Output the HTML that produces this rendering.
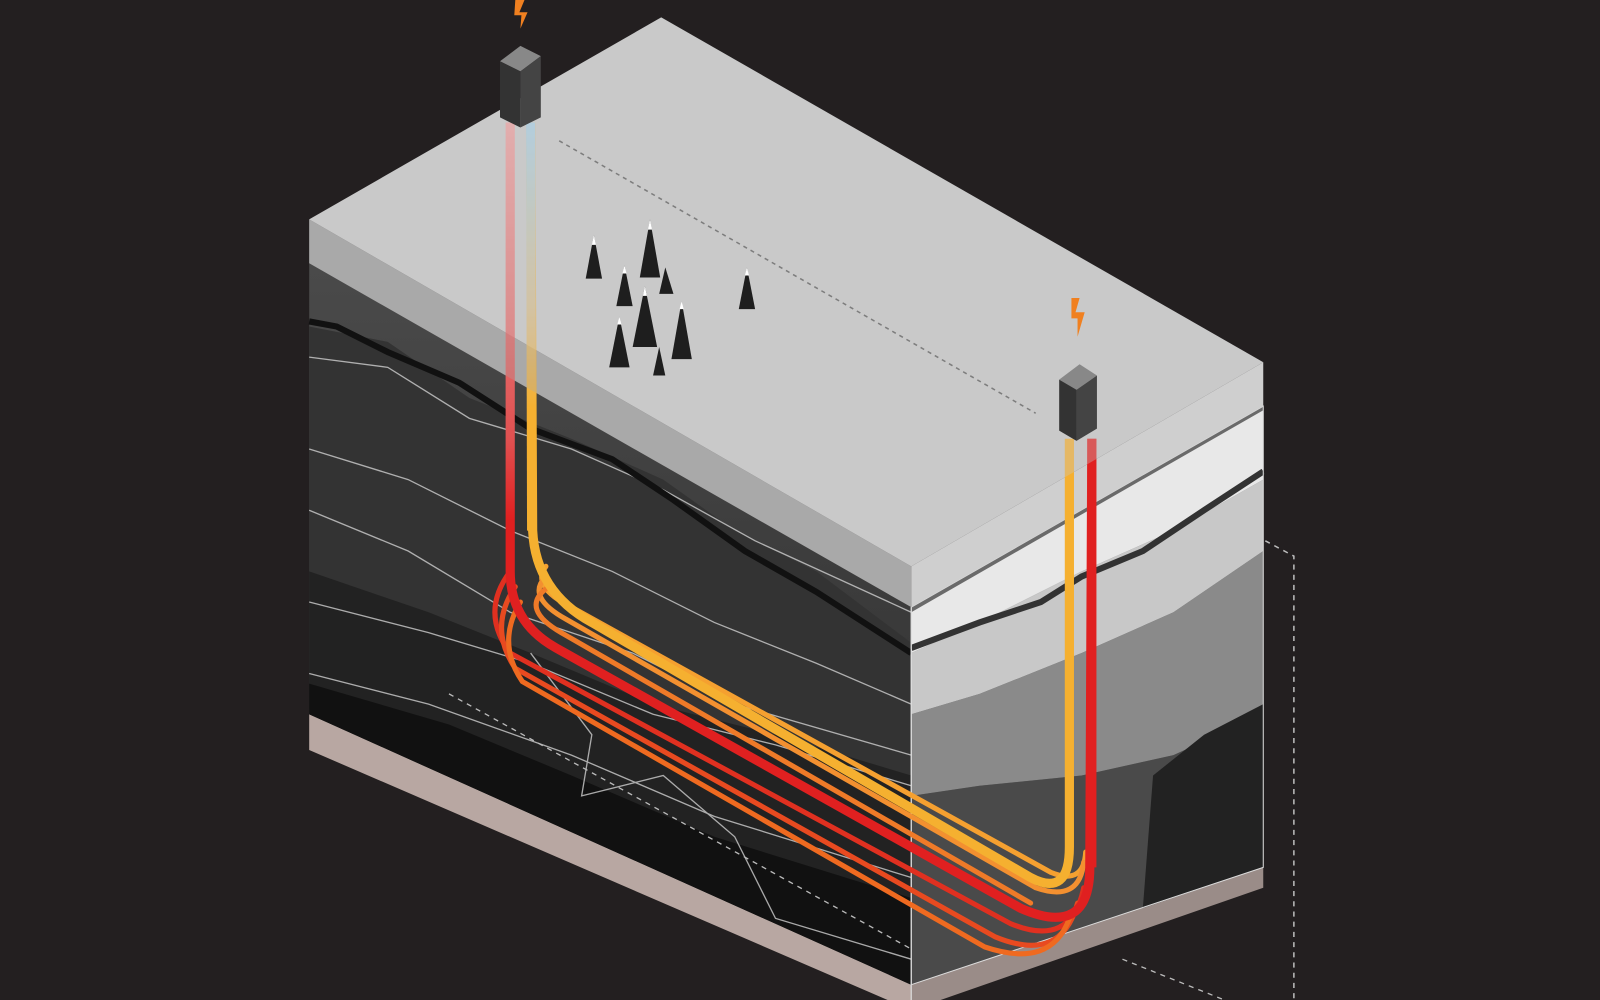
<!DOCTYPE html>
<html><head><style>html,body{margin:0;padding:0;background:#231f20;}svg{display:block}</style></head>
<body>
<svg width="1600" height="1000" viewBox="0 0 1568 980" preserveAspectRatio="none" xmlns="http://www.w3.org/2000/svg">
<defs>
<linearGradient id="lw" x1="0" y1="0" x2="0" y2="1"><stop offset="0" stop-color="#f0a0a0"/><stop offset="0.4" stop-color="#e05050"/><stop offset="0.5" stop-color="#e02020"/><stop offset="1" stop-color="#e02020"/></linearGradient>
<linearGradient id="lb" x1="0" y1="0" x2="0" y2="1"><stop offset="0" stop-color="#a8d0e8"/><stop offset="0.45" stop-color="#d8c090"/><stop offset="0.7" stop-color="#f5b030"/><stop offset="1" stop-color="#f5b030"/></linearGradient>
<linearGradient id="rb" x1="0" y1="0" x2="0" y2="1"><stop offset="0" stop-color="#a8d0e8"/><stop offset="0.4" stop-color="#50a0b0"/><stop offset="0.8" stop-color="#d8b040"/><stop offset="1" stop-color="#f5b030"/></linearGradient>
<linearGradient id="lf" x1="0" y1="0" x2="0" y2="1"><stop offset="0" stop-color="#4a4a4a"/><stop offset="1" stop-color="#2a2a2a"/></linearGradient>
</defs>
<rect width="1568" height="980" fill="#231f20"/>
<polygon points="303,695 893,960 893,990 303,735" fill="#b8a7a2"/>
<polygon points="893,960 1238,840 1238,870 893,990" fill="#9a8c88"/>
<polygon points="303,258 893,595 893,965 303,700" fill="url(#lf)"/>
<path d="M303,320 L380,335 460,390 560,430 650,470 720,520 800,560 893,630 L893,965 303,700Z" fill="#333"/>
<path d="M303,560 L420,600 520,640 640,690 760,720 893,760 L893,965 303,700Z" fill="#222"/>
<path d="M303,670 L440,710 560,760 700,820 893,880 L893,965 303,700Z" fill="#111"/>
<g fill="none" stroke="#cfcfcf" stroke-width="1.3" opacity="0.8">
<path d="M303,350 L380,360 460,410 560,440 650,480 740,530 893,600"/>
<path d="M303,440 L400,470 500,520 600,560 700,610 800,650 893,690"/>
<path d="M303,500 L400,540 500,600 620,640 720,690 893,740"/>
<path d="M303,590 L420,620 520,650 640,700 760,730 893,770"/>
<path d="M303,660 L420,690 560,740 700,800 893,860"/>
<path d="M520,640 L580,720 570,780 650,760 720,820 760,900 893,940"/>
</g>
<path d="M303,315 L330,320 380,345 450,375 520,420 600,450 660,490 730,540 800,580 893,640" fill="none" stroke="#111" stroke-width="6"/>
<polygon points="893,595 1238,398 1238,850 893,965" fill="#6a6a6a"/>
<polygon points="893,600 1238,402 1238,470 1150,520 1060,560 960,610 893,640" fill="#e8e8e8"/>
<polygon points="893,640 960,610 1060,560 1150,520 1238,470 1238,540 1150,600 1060,640 960,680 893,700" fill="#c8c8c8"/>
<polygon points="893,700 960,680 1060,640 1150,600 1238,540 1238,700 1150,740 1060,760 960,770 893,780" fill="#8a8a8a"/>
<polygon points="893,780 960,770 1060,760 1150,740 1238,700 1238,850 893,965" fill="#4a4a4a"/>
<path d="M893,635 L960,610 1020,590 1060,565 1120,540 1180,500 1238,462" fill="none" stroke="#333" stroke-width="6"/>
<path d="M1130,760 L1180,720 1238,690 L1238,850 1120,890Z" fill="#222"/>
<polygon points="893,595 1238,398 1238,850 893,965" fill="none" stroke="#ddd" stroke-width="1"/>
<line x1="893" y1="595" x2="893" y2="980" stroke="#ddd" stroke-width="1.2"/>
<polygon points="303,215 893,555 893,595 303,258" fill="#a9a9a9"/>
<polygon points="893,555 1238,355 1238,398 893,595" fill="#cfcfcf"/>
<polygon points="303,215 648,17 1238,355 893,555" fill="#c9c9c9"/>
<line x1="548" y1="138" x2="1015" y2="405" stroke="#555" stroke-width="1.5" stroke-dasharray="4,4"/>
<g fill="none" stroke-linecap="round">
<path d="M500,560 Q470,600 500,640 L990,905 Q1050,930 1062,870" stroke="#e03020" stroke-width="5"/>
<path d="M505,575 Q478,615 505,655 L975,918 Q1040,945 1056,885" stroke="#e84a20" stroke-width="5"/>
<path d="M510,590 Q486,630 512,668 L965,928 Q1030,950 1048,900" stroke="#ef6a20" stroke-width="5"/>
<path d="M535,555 Q520,575 560,595 L1030,855 Q1062,868 1064,835" stroke="#f5a030" stroke-width="5"/>
<path d="M535,565 Q515,585 555,607 L1015,870 Q1058,885 1062,845" stroke="#f39030" stroke-width="5"/>
<path d="M535,577 Q510,597 550,620 L1010,885" stroke="#ef7a28" stroke-width="5"/>
</g>
<path d="M500,120 L500,560 Q500,610 545,635 L1000,890 Q1068,920 1068,850 L1070,430" fill="none" stroke="url(#lw)" stroke-width="9"/>
<path d="M1070,850 L1070,430" stroke="#e02020" stroke-width="9"/>
<path d="M520,120 L522,520 Q525,580 580,610 L1010,860 Q1048,880 1048,830 L1048,430" fill="none" stroke="#f5b030" stroke-width="9"/>
<path d="M520,120 L521,520" stroke="url(#lb)" stroke-width="9"/>
<path d="M1048,830 L1048,430" stroke="url(#rb)" stroke-width="9"/>
<polygon points="303,215 648,17 1238,355 893,555" fill="#c9c9c9" opacity="0.35"/>
<polygon points="303,215 893,555 893,595 303,258" fill="#a9a9a9" opacity="0.3"/>
<g fill="#1e1e1e">
<polygon points="582,230 574,273 590,273"/><polygon points="637,215 627,272 647,272"/>
<polygon points="612,260 604,300 620,300"/><polygon points="652,262 646,288 660,288"/>
<polygon points="732,262 724,303 740,303"/><polygon points="632,280 620,340 644,340"/>
<polygon points="607,310 597,360 617,360"/><polygon points="668,295 658,352 678,352"/>
<polygon points="646,340 640,368 652,368"/>
</g>
<g fill="#fff">
<polygon points="582,230 580,240 584,240"/><polygon points="637,215 635,225 639,225"/>
<polygon points="612,260 610,268 614,268"/><polygon points="732,262 730,270 734,270"/>
<polygon points="632,280 630,290 634,290"/><polygon points="607,310 605,318 609,318"/>
<polygon points="668,295 666,303 670,303"/>
</g>
<polygon points="490,60 510,45 530,55 510,70" fill="#888"/>
<polygon points="490,60 510,70 510,125 490,115" fill="#333"/>
<polygon points="510,70 530,55 530,115 510,125" fill="#444"/>
<polygon points="1038,372 1058,357 1075,368 1055,382" fill="#888"/>
<polygon points="1038,372 1055,382 1055,432 1038,422" fill="#333"/>
<polygon points="1055,382 1075,368 1075,420 1055,432" fill="#444"/>
<path d="M505,0 L514,0 509,12 517,12 510,28 511,15 504,15Z" fill="#f08020"/>
<path d="M1050,292 L1058,292 1054,306 1063,306 1056,330 1056,312 1050,312Z" fill="#f08020"/>
<path d="M1240,530 L1268,545 L1268,980" fill="none" stroke="#bbb" stroke-width="1.5" stroke-dasharray="5,5"/>
<path d="M440,680 L893,930 M1100,940 L1200,980" fill="none" stroke="#bbb" stroke-width="1.3" stroke-dasharray="5,5"/>
</svg>
</body></html>
